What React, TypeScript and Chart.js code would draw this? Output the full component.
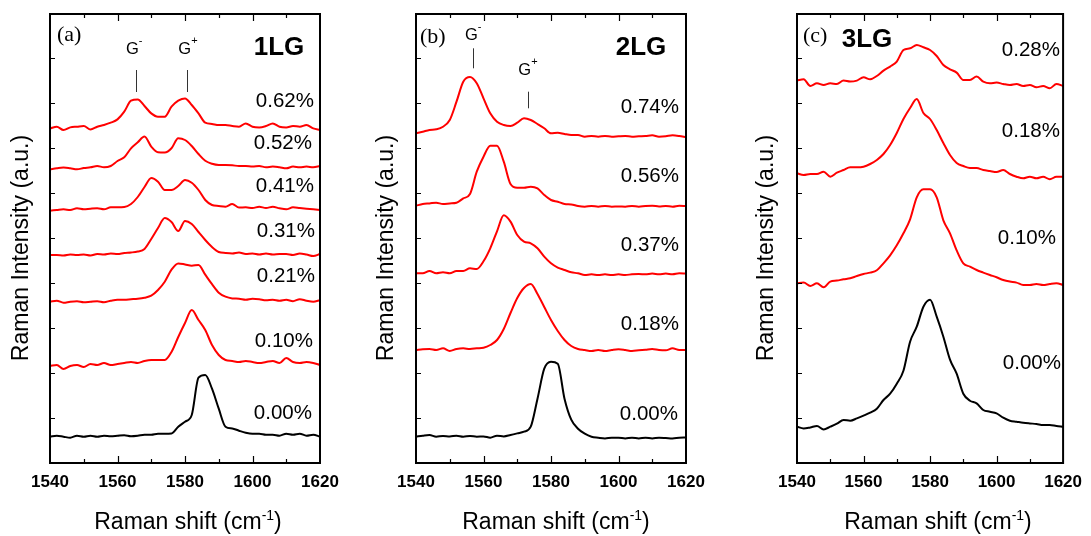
import React, { useEffect, useRef } from "react";
import { Chart, registerables } from "chart.js";

Chart.register(...registerables);

// ---------- data ----------
const RAMAN_SHIFT = [1540, 1542, 1544, 1546, 1548, 1550, 1552, 1554, 1556, 1558, 1560, 1562, 1564, 1566, 1568, 1570, 1572, 1574, 1576, 1578, 1580, 1582, 1584, 1586, 1588, 1590, 1592, 1594, 1596, 1598, 1600, 1602, 1604, 1606, 1608, 1610, 1612, 1614, 1616, 1618, 1620];
const X_TICK_STEP = 20;
const X_MINOR_TICKS = [1550, 1560, 1570, 1580, 1590, 1600, 1610];
const Y_TICKS = [45, 90, 135, 180, 225, 270, 315, 360, 405];

// (a) 1LG
const A_STRAINS = ["0.62%", "0.52%", "0.41%", "0.31%", "0.21%", "0.10%", "0.00%"];
const A_OFFSETS = [336.3, 294.7, 253, 208, 161.3, 98, 26.3];
const A_062 = [-1.7, 0, -3.3, -0.7, 0, 0.7, -2.7, 0, 1.7, 4, 7.3, 15, 26, 27.3, 20.7, 13.3, 10, 10, 20, 26, 28.3, 21.7, 13.3, 4, 2.7, 1.7, 1.7, 0.7, 0, 3.3, 0, -0.7, 0.7, 3.3, 0, -0.7, 0.7, 0, 1.7, -1.7, -3.3];
const A_052 = [-1, 0, 0.7, 0, -1, 0.3, 1, 2.3, 1, 2.3, 7.3, 11, 20, 26, 31.7, 21.7, 16, 15.7, 20, 30, 28.3, 22.3, 14.3, 7.5, 4.5, 3.3, 3.3, 3, 2.3, 2.3, 1.7, 2.3, 1, 1.7, 1, 0, 1.7, 1, 1.7, 1, 2.3];
const A_041 = [-0.7, 0, 0.7, 0, 1.7, 0.7, 1.3, 1.7, 0.7, 2.7, 2.7, 3, 6, 13, 23, 32, 28.3, 20, 20, 24, 30, 27.3, 20, 10, 5, 4, 3.3, 6, 2.5, 2.7, 2, 3.3, 2, 3.3, 1.7, 0.7, 2.7, 2, 1.3, 0.7, 0];
const A_031 = [0, 0, -0.5, 0.5, 0, 0.5, -0.5, 1, 0.5, 1.5, 1, 2, 2.5, 3.5, 6, 16, 27, 37, 33, 24, 34, 31, 23, 15, 8, 3, 2, 1.5, 2.5, 1, 1.5, 0.5, 1.5, 0.5, 1, 1, 0, 1.5, 0.5, -1, 1];
const A_021 = [0, 1, -1, 0, 0.5, -0.5, 0, 0.5, -0.5, 1, 2, 2, 2.5, 3, 4, 6, 11.7, 20, 32, 38.3, 37.3, 36, 36.7, 27, 17.5, 9, 5, 3.3, 3, 2, 3, 2.5, 1.5, 2, 1, 2, 0.5, 2.5, 1, 0, 1.5];
const A_010 = [-1, 0, -4, -1, 0, -2, 1, 0, 2, 0, 1, 2, 3, 2, 4, 5, 5, 5, 13, 28, 42, 55, 45, 35, 20, 10, 5, 4, 3, 4, 3, 2, 3, 4, 2, 7, 3, 2, 3, 2, 0];
const A_000 = [0, 1, 0, -1, 1, 0, 1, 0, 1, 0.5, 1, 1.5, 0.5, 1, 2, 2, 3, 3, 3.3, 10, 15, 21.7, 59, 61.7, 48, 28, 10, 8.3, 6, 4, 3, 3, 2, 2, 1, 3, 2, 3, 1, 2, 0];

// (b) 2LG
const B_STRAINS = ["0.74%", "0.56%", "0.37%", "0.18%", "0.00%"];
const B_OFFSETS = [327, 257.3, 189.7, 113, 26.3];
const B_074 = [2.7, 4.3, 6, 6.7, 9.3, 16, 34.3, 54.3, 59, 52.7, 37.7, 22.7, 14.3, 11, 10, 13.3, 17.7, 16, 12, 7.7, 2.7, 3.3, 2, 1, 1, -0.7, 0, -0.7, 0, -0.7, -0.3, 0, -0.7, -0.3, 0, 0.7, -0.7, -0.3, 0.7, 0, -1.3];
const B_056 = [0, 1.7, 2.3, 3, 1.7, 2.3, 3, 7.3, 11.7, 34, 49, 60, 60, 44, 21.7, 18, 18, 19, 17.3, 10.7, 5.7, 4, 1.7, 1.3, -0.3, -1, -0.3, -1, -0.3, -1, -0.7, -1, -0.3, -1, -0.3, 0, -0.7, -0.3, -1, 0, -0.3];
const B_037 = [0, 0, 2.3, 0, 1, 0, 2.3, 2.3, 5, 4.3, 12, 25, 42, 58, 51.7, 38.3, 31.7, 30, 25, 16.7, 10, 5.7, 3.3, 1, 0, -1.7, -1, -1.7, -1, -1.7, -1, -1.7, -1, -0.7, -1, -0.3, -1, -0.3, -1, 0, -0.3];
const B_018 = [0, 0.7, 1, 0, 1.7, -1, 1, 1.7, 1, 1.7, 2.3, 5, 10, 21, 37, 52, 62, 66, 56, 43, 30, 19, 10, 4, 1, 0, -1, 0, -1, 0, 0.7, 0, -1, -0.3, 0.3, 1, 0, -0.3, 1.7, 0, 0];
const B_000 = [0, 1, 1.7, 0, 0.7, 0.3, 1, 0, 0.7, 0, 0.3, -1, 1, 0.3, 1.7, 3.3, 5, 10, 38, 68, 75, 73, 38, 17, 8, 3, 0, -1, -1.7, -1, -1, -1.7, -1, -1.7, -1, -1.7, -1, -1.3, -1.7, -1, -0.7];

// (c) 3LG
const C_STRAINS = ["0.28%", "0.18%", "0.10%", "0.00%"];
const C_OFFSETS = [379.7, 288, 179.7, 36.3];
const C_028 = [2.7, 4, -2.7, 0, -1.7, 0, -0.7, 2.7, 1.7, 2.7, 6, 4, 7.3, 12.7, 16.7, 21.7, 33.3, 35, 38.3, 36, 33.3, 27.3, 18.3, 14, 10.7, 3.3, 3.3, 6.7, 1.7, 0, 0.7, -0.7, -1.7, -0.7, -2.7, -1.7, -4, -2.7, -5, -0.7, -2.7];
const C_018 = [1.7, 0, 1, 1, 3.3, -1.7, 2.3, 5, 7.7, 7.7, 8.3, 11, 15, 21, 30, 42, 56, 67, 76, 62, 56, 45, 32, 20, 12, 9, 7, 7, 5, 4, 3, 5, 1, -1.7, -3.3, -1.7, -3.3, -1.7, -4.3, -1.7, -1.7];
const C_010 = [0, 0.7, -2.7, 0, -4, 1.7, 2.7, 4, 5, 7.3, 9.3, 10.7, 13, 20, 28, 38, 50, 64, 86, 94, 94, 86, 63, 50, 33, 20, 16.7, 13.3, 10.7, 8.3, 6, 3.3, 1.7, 0.7, -1.7, -1.7, -0.7, -1.7, -0.7, 0, -1.7];
const C_000 = [0, -1.7, -0.7, 0.7, -2.7, 0, 3, 6.7, 6, 8.3, 11, 14, 18, 26.7, 33, 43, 56, 85, 100, 120, 127, 110, 90, 67, 53, 33, 26, 23.3, 16.7, 15, 13.3, 9, 6, 5, 4, 3.3, 2.7, 1.7, 1.7, 0.7, 0];

// ---------- layout / style ----------
const SANS = "'Liberation Sans', Arial, sans-serif";
const SERIF = "'Liberation Serif', 'Times New Roman', serif";
const PLOT_TOP = 14;
const PLOT_BOTTOM = 463;
const Y_MAX = 449;
const H = 536;

type Sup = { x: number; base: number; sup: string };
type Marker = { x: number; y1: number; y2: number };
type Panel = {
  canvasLeft: number;
  canvasWidth: number;
  plotLeft: number;
  plotRight: number;
  series: number[][];
  offsets: number[];
  strains: string[];
  labelPos: number[][]; // page [rightX, centerY]
  tag: string;
  tagPos: number[];
  name: string;
  namePos: number[];
  yTitleX: number;
  xTitleX: number;
  gMinus?: Sup;
  gPlus?: Sup;
  markers: Marker[];
};

const PANELS: Panel[] = [
  {
    canvasLeft: 0, canvasWidth: 370, plotLeft: 50, plotRight: 320,
    series: [A_062, A_052, A_041, A_031, A_021, A_010, A_000],
    offsets: A_OFFSETS, strains: A_STRAINS,
    labelPos: [[314, 101.7], [312, 143.3], [314, 186.7], [315, 231.7], [315, 276.7], [313, 341.7], [312, 413.3]],
    tag: "(a)", tagPos: [57, 41], name: "1LG", namePos: [279, 55],
    yTitleX: 28, xTitleX: 188,
    gMinus: { x: 126, base: 54, sup: "-" }, gPlus: { x: 178.3, base: 53.5, sup: "+" },
    markers: [{ x: 1565.5, y1: 393, y2: 371 }, { x: 1580.7, y1: 393, y2: 371 }],
  },
  {
    canvasLeft: 370, canvasWidth: 370, plotLeft: 416, plotRight: 686,
    series: [B_074, B_056, B_037, B_018, B_000],
    offsets: B_OFFSETS, strains: B_STRAINS,
    labelPos: [[679, 107], [679, 176], [679, 245], [679, 324], [678, 414]],
    tag: "(b)", tagPos: [420, 43], name: "2LG", namePos: [641, 55],
    yTitleX: 393, xTitleX: 556,
    gMinus: { x: 465, base: 40, sup: "-" }, gPlus: { x: 518.3, base: 75, sup: "+" },
    markers: [{ x: 1557, y1: 414.7, y2: 394.7 }, { x: 1573.1, y1: 371.3, y2: 354.7 }],
  },
  {
    canvasLeft: 740, canvasWidth: 351, plotLeft: 797, plotRight: 1068,
    series: [C_028, C_018, C_010, C_000],
    offsets: C_OFFSETS, strains: C_STRAINS,
    labelPos: [[1060, 50], [1060, 131.7], [1056, 238.3], [1061, 363.3]],
    tag: "(c)", tagPos: [803, 42], name: "3LG", namePos: [867, 46.5],
    yTitleX: 773, xTitleX: 938,
    markers: [],
  },
];

function drawSupText(ctx: CanvasRenderingContext2D, x: number, base: number, main: string, sup: string, tail: string, size: number, supSize: number, rise: number) {
  ctx.textAlign = "left";
  ctx.textBaseline = "alphabetic";
  ctx.font = `${size}px ${SANS}`;
  ctx.fillText(main, x, base);
  const w1 = ctx.measureText(main).width;
  ctx.font = `${supSize}px ${SANS}`;
  ctx.fillText(sup, x + w1, base - rise);
  const w2 = ctx.measureText(sup).width;
  if (tail) {
    ctx.font = `${size}px ${SANS}`;
    ctx.fillText(tail, x + w1 + w2, base);
  }
}

function measureSupText(ctx: CanvasRenderingContext2D, main: string, sup: string, tail: string, size: number, supSize: number) {
  ctx.font = `${size}px ${SANS}`;
  const a = ctx.measureText(main).width + ctx.measureText(tail).width;
  ctx.font = `${supSize}px ${SANS}`;
  return a + ctx.measureText(sup).width;
}

function makePlugin(p: Panel) {
  return {
    id: "decor",
    afterDraw(chart: any) {
      const ctx: CanvasRenderingContext2D = chart.ctx;
      const xs = chart.scales.x;
      const ys = chart.scales.y;
      const a = chart.chartArea;
      const ox = p.canvasLeft;
      ctx.save();
      // frame
      ctx.strokeStyle = "#000";
      ctx.lineWidth = 2;
      ctx.strokeRect(a.left, a.top, a.right - a.left, a.bottom - a.top);
      // x ticks (inward, top and bottom) and left y ticks
      ctx.lineWidth = 1.2;
      ctx.beginPath();
      for (const v of X_MINOR_TICKS) {
        const px = Math.round(xs.getPixelForValue(v)) + 0.5;
        const len = v % 20 === 0 ? 7 : 4;
        ctx.moveTo(px, a.bottom);
        ctx.lineTo(px, a.bottom - len);
        ctx.moveTo(px, a.top);
        ctx.lineTo(px, a.top + len);
      }
      for (const v of Y_TICKS) {
        const py = Math.round(ys.getPixelForValue(v)) + 0.5;
        ctx.moveTo(a.left, py);
        ctx.lineTo(a.left + 5, py);
      }
      ctx.stroke();
      // peak markers
      ctx.strokeStyle = "#333";
      ctx.lineWidth = 1;
      ctx.beginPath();
      for (const m of p.markers) {
        const px = Math.round(xs.getPixelForValue(m.x)) + 0.5;
        ctx.moveTo(px, ys.getPixelForValue(m.y1));
        ctx.lineTo(px, ys.getPixelForValue(m.y2));
      }
      ctx.stroke();

      ctx.fillStyle = "#000";
      // strain labels
      ctx.font = `20.5px ${SANS}`;
      ctx.textAlign = "right";
      ctx.textBaseline = "middle";
      p.strains.forEach((s, i) => {
        ctx.fillText(s, p.labelPos[i][0] - ox, p.labelPos[i][1]);
      });
      // tag
      ctx.font = `22px ${SERIF}`;
      ctx.textAlign = "left";
      ctx.textBaseline = "alphabetic";
      ctx.fillText(p.tag, p.tagPos[0] - ox, p.tagPos[1]);
      // layer name
      ctx.font = `bold 26px ${SANS}`;
      ctx.textAlign = "center";
      ctx.fillText(p.name, p.namePos[0] - ox, p.namePos[1]);
      // G labels
      if (p.gMinus) drawSupText(ctx, p.gMinus.x - ox, p.gMinus.base, "G", p.gMinus.sup, "", 16.5, 11, 10);
      if (p.gPlus) drawSupText(ctx, p.gPlus.x - ox, p.gPlus.base, "G", p.gPlus.sup, "", 16.5, 11, 10);
      // x title
      const tw = measureSupText(ctx, "Raman shift (cm", "-1", ")", 23, 14);
      drawSupText(ctx, p.xTitleX - ox - tw / 2, 529, "Raman shift (cm", "-1", ")", 23, 14, 9);
      // y title
      ctx.save();
      ctx.translate(p.yTitleX - ox, 248);
      ctx.rotate(-Math.PI / 2);
      ctx.font = `23px ${SANS}`;
      ctx.textAlign = "center";
      ctx.textBaseline = "alphabetic";
      ctx.fillText("Raman Intensity (a.u.)", 0, 0);
      ctx.restore();
      ctx.restore();
    },
  };
}

function PanelChart({ p }: { p: Panel }) {
  const ref = useRef<HTMLCanvasElement>(null);
  useEffect(() => {
    const last = p.series.length - 1;
    const chart = new Chart(ref.current as HTMLCanvasElement, {
      type: "line",
      data: {
        datasets: p.series.map((vals, i) => ({
          label: p.strains[i],
          data: RAMAN_SHIFT.map((x, j) => ({ x, y: p.offsets[i] + vals[j] })),
          borderColor: i === last ? "#000000" : "#ff0000",
          borderWidth: 2,
          pointRadius: 0,
          cubicInterpolationMode: "monotone",
          fill: false,
        })),
      },
      options: {
        responsive: false,
        animation: false,
        events: [],
        layout: {
          padding: {
            left: p.plotLeft - p.canvasLeft,
            right: p.canvasLeft + p.canvasWidth - p.plotRight,
            top: PLOT_TOP,
            bottom: 0,
          },
        },
        plugins: { legend: { display: false }, tooltip: { enabled: false }, title: { display: false } },
        scales: {
          x: {
            type: "linear",
            min: 1540,
            max: 1620,
            grid: { display: false, drawTicks: false },
            border: { display: false },
            ticks: {
              stepSize: X_TICK_STEP,
              autoSkip: false,
              maxRotation: 0,
              padding: 9,
              color: "#000",
              font: { family: SANS, size: 17, weight: "bold" },
              callback: (v: any) => String(v),
            },
            afterFit: (s: any) => {
              s.height = H - PLOT_BOTTOM;
            },
          },
          y: { type: "linear", min: 0, max: Y_MAX, display: false },
        },
      } as any,
      plugins: [makePlugin(p)],
    });
    return () => chart.destroy();
  }, []);
  return (
    <canvas
      ref={ref}
      width={p.canvasWidth}
      height={H}
      style={{ position: "absolute", left: p.canvasLeft, top: 0, width: p.canvasWidth, height: H }}
    />
  );
}

export default function App() {
  return (
    <div style={{ position: "absolute", left: 0, top: 0, width: 1091, height: H, background: "#fff" }}>
      {PANELS.map((p, i) => (
        <PanelChart key={i} p={p} />
      ))}
    </div>
  );
}
